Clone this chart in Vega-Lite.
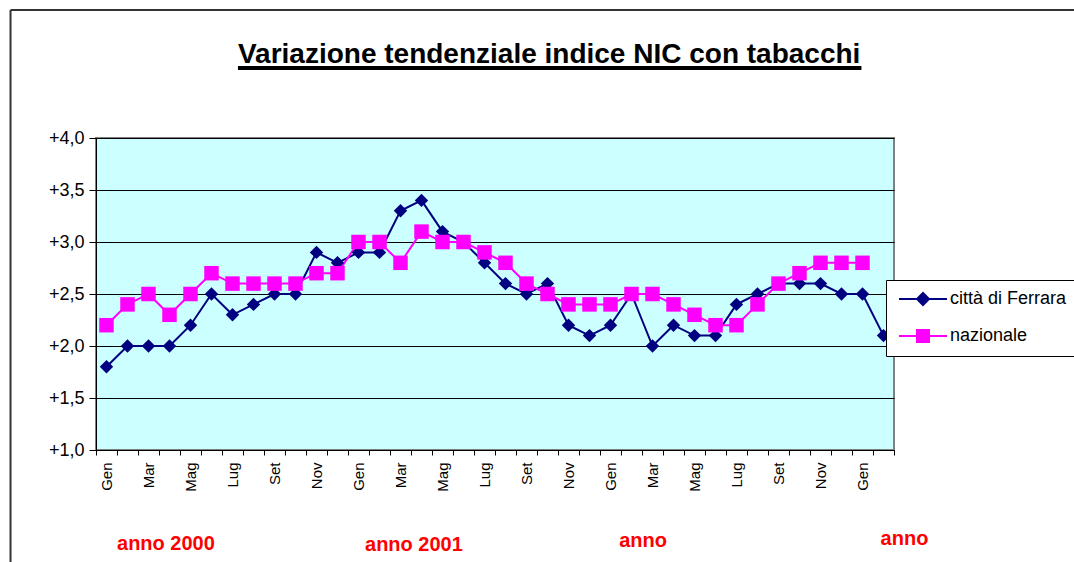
{
  "$schema": "https://vega.github.io/schema/vega-lite/v6.json",
  "width": 798,
  "height": 312,
  "autosize": "none",
  "padding": {"left": 96, "top": 138, "right": 180, "bottom": 112},
  "background": "white",
  "config": {
    "font": "Liberation Sans",
    "view": {"fill": "#CCFFFF", "stroke": "#808080", "strokeWidth": 2}
  },
  "datasets": {
    "serie": [
      {"t":0,"s":"città di Ferrara","v":1.8},{"t":1,"s":"città di Ferrara","v":2.0},{"t":2,"s":"città di Ferrara","v":2.0},{"t":3,"s":"città di Ferrara","v":2.0},
      {"t":4,"s":"città di Ferrara","v":2.2},{"t":5,"s":"città di Ferrara","v":2.5},{"t":6,"s":"città di Ferrara","v":2.3},{"t":7,"s":"città di Ferrara","v":2.4},
      {"t":8,"s":"città di Ferrara","v":2.5},{"t":9,"s":"città di Ferrara","v":2.5},{"t":10,"s":"città di Ferrara","v":2.9},{"t":11,"s":"città di Ferrara","v":2.8},
      {"t":12,"s":"città di Ferrara","v":2.9},{"t":13,"s":"città di Ferrara","v":2.9},{"t":14,"s":"città di Ferrara","v":3.3},{"t":15,"s":"città di Ferrara","v":3.4},
      {"t":16,"s":"città di Ferrara","v":3.1},{"t":17,"s":"città di Ferrara","v":3.0},{"t":18,"s":"città di Ferrara","v":2.8},{"t":19,"s":"città di Ferrara","v":2.6},
      {"t":20,"s":"città di Ferrara","v":2.5},{"t":21,"s":"città di Ferrara","v":2.6},{"t":22,"s":"città di Ferrara","v":2.2},{"t":23,"s":"città di Ferrara","v":2.1},
      {"t":24,"s":"città di Ferrara","v":2.2},{"t":25,"s":"città di Ferrara","v":2.5},{"t":26,"s":"città di Ferrara","v":2.0},{"t":27,"s":"città di Ferrara","v":2.2},
      {"t":28,"s":"città di Ferrara","v":2.1},{"t":29,"s":"città di Ferrara","v":2.1},{"t":30,"s":"città di Ferrara","v":2.4},{"t":31,"s":"città di Ferrara","v":2.5},
      {"t":32,"s":"città di Ferrara","v":2.6},{"t":33,"s":"città di Ferrara","v":2.6},{"t":34,"s":"città di Ferrara","v":2.6},{"t":35,"s":"città di Ferrara","v":2.5},
      {"t":36,"s":"città di Ferrara","v":2.5},{"t":37,"s":"città di Ferrara","v":2.1},
      {"t":0,"s":"nazionale","v":2.2},{"t":1,"s":"nazionale","v":2.4},{"t":2,"s":"nazionale","v":2.5},{"t":3,"s":"nazionale","v":2.3},
      {"t":4,"s":"nazionale","v":2.5},{"t":5,"s":"nazionale","v":2.7},{"t":6,"s":"nazionale","v":2.6},{"t":7,"s":"nazionale","v":2.6},
      {"t":8,"s":"nazionale","v":2.6},{"t":9,"s":"nazionale","v":2.6},{"t":10,"s":"nazionale","v":2.7},{"t":11,"s":"nazionale","v":2.7},
      {"t":12,"s":"nazionale","v":3.0},{"t":13,"s":"nazionale","v":3.0},{"t":14,"s":"nazionale","v":2.8},{"t":15,"s":"nazionale","v":3.1},
      {"t":16,"s":"nazionale","v":3.0},{"t":17,"s":"nazionale","v":3.0},{"t":18,"s":"nazionale","v":2.9},{"t":19,"s":"nazionale","v":2.8},
      {"t":20,"s":"nazionale","v":2.6},{"t":21,"s":"nazionale","v":2.5},{"t":22,"s":"nazionale","v":2.4},{"t":23,"s":"nazionale","v":2.4},
      {"t":24,"s":"nazionale","v":2.4},{"t":25,"s":"nazionale","v":2.5},{"t":26,"s":"nazionale","v":2.5},{"t":27,"s":"nazionale","v":2.4},
      {"t":28,"s":"nazionale","v":2.3},{"t":29,"s":"nazionale","v":2.2},{"t":30,"s":"nazionale","v":2.2},{"t":31,"s":"nazionale","v":2.4},
      {"t":32,"s":"nazionale","v":2.6},{"t":33,"s":"nazionale","v":2.7},{"t":34,"s":"nazionale","v":2.8},{"t":35,"s":"nazionale","v":2.8},
      {"t":36,"s":"nazionale","v":2.8}
    ],
    "titolo": [
      {"lab": "Variazione tendenziale indice NIC con tabacchi", "xq": 6.76, "yq": 4.721}
    ],
    "note": [
      {"lab": "anno 2000", "xq": 3.33, "yq": 0.096},
      {"lab": "anno 2001", "xq": 15.14, "yq": 0.087},
      {"lab": "anno", "xq": 26.05, "yq": 0.125},
      {"lab": "anno", "xq": 38.5, "yq": 0.144}
    ],
    "sottolineatura": [
      {"x1": 6.76, "x2": 36.45, "y1": 4.673}
    ],
    "cornice": [
      {"x1": -4.07, "x2": 60, "y1": 5.23, "y2": 5.23},
      {"x1": -4.07, "x2": -4.07, "y1": 5.23, "y2": -1.5}
    ]
  },
  "layer": [
    {
      "data": {"name": "serie"},
      "layer": [
        {
          "mark": {"type": "line", "strokeWidth": 2},
          "encoding": {
            "x": {
              "field": "t", "type": "ordinal",
              "scale": {"paddingInner": 0, "paddingOuter": 0},
              "axis": {
                "title": null,
                "labelAngle": 270,
                "labelExpr": "datum.value % 2 == 0 ? ['Gen','Mar','Mag','Lug','Set','Nov'][(datum.value % 12) / 2] : ''",
                "labelFontSize": 15,
                "labelColor": "black",
                "labelPadding": 7,
                "labelOverlap": false,
                "labelBound": false,
                "tickSize": 5,
                "tickColor": "black",
                "tickBand": "extent",
                "domainColor": "black",
                "grid": false
              }
            },
            "y": {
              "field": "v", "type": "quantitative",
              "scale": {"domain": [1, 4], "nice": false, "zero": false},
              "axis": {
                "title": null,
                "values": [1, 1.5, 2, 2.5, 3, 3.5, 4],
                "labelExpr": "'+' + replace(format(datum.value, '.1f'), '.', ',')",
                "labelFontSize": 18,
                "labelColor": "black",
                "labelPadding": 5,
                "tickSize": 7,
                "tickColor": "black",
                "domainColor": "black",
                "grid": true,
                "gridColor": "black",
                "gridWidth": 1,
                "gridOpacity": 1
              }
            },
            "color": {
              "field": "s", "type": "nominal",
              "scale": {"domain": ["città di Ferrara", "nazionale"], "range": ["#000080", "#FF00FF"]},
              "legend": {
                "title": null,
                "orient": "none",
                "legendX": 790,
                "legendY": 142,
                "padding": 10,
                "strokeColor": "black",
                "fillColor": "white",
                "labelFontSize": 18,
                "labelColor": "black",
                "labelOffset": 36,
                "rowPadding": 17,
                "symbolSize": 144,
                "symbolStrokeWidth": 2,
                "encode": {
                  "symbols": {
                    "update": {
                      "shape": {"signal": "datum.value == 'nazionale' ? 'M-1,0L7,0M2,-1L4,-1L4,1L2,1Z' : 'M-1,0L7,0M3,-1L4,0L3,1L2,0Z'"},
                      "fill": {"signal": "datum.value == 'nazionale' ? '#FF00FF' : '#000080'"},
                      "fillOpacity": {"value": 1}
                    }
                  }
                }
              }
            }
          }
        },
        {
          "mark": {"type": "point", "filled": true, "opacity": 1},
          "encoding": {
            "x": {"field": "t", "type": "ordinal"},
            "y": {"field": "v", "type": "quantitative", "scale": {"domain": [1, 4], "nice": false, "zero": false}},
            "color": {
              "field": "s", "type": "nominal",
              "scale": {"domain": ["città di Ferrara", "nazionale"], "range": ["#000080", "#FF00FF"]},
              "legend": null
            },
            "shape": {
              "field": "s", "type": "nominal",
              "scale": {"domain": ["città di Ferrara", "nazionale"], "range": ["diamond", "square"]},
              "legend": null
            },
            "size": {
              "field": "s", "type": "nominal",
              "scale": {"domain": ["città di Ferrara", "nazionale"], "range": [180, 210]},
              "legend": null
            }
          }
        }
      ],
      "resolve": {"scale": {"color": "independent", "shape": "independent", "size": "independent"}}
    },
    {
      "data": {"name": "titolo"},
      "mark": {"type": "text", "color": "black", "fontWeight": "bold", "fontSize": 28, "font": "Liberation Sans", "align": "left", "baseline": "alphabetic"},
      "encoding": {
        "x": {"field": "xq", "type": "quantitative", "scale": {"domain": [0, 38], "nice": false, "zero": false}, "axis": null},
        "y": {"field": "yq", "type": "quantitative", "scale": {"domain": [1, 4], "nice": false, "zero": false}, "axis": null},
        "text": {"field": "lab"}
      }
    },
    {
      "data": {"name": "note"},
      "mark": {"type": "text", "color": "#FF0000", "fontWeight": "bold", "fontSize": 20, "font": "Liberation Sans", "align": "center", "baseline": "middle"},
      "encoding": {
        "x": {"field": "xq", "type": "quantitative", "scale": {"domain": [0, 38], "nice": false, "zero": false}, "axis": null},
        "y": {"field": "yq", "type": "quantitative", "scale": {"domain": [1, 4], "nice": false, "zero": false}, "axis": null},
        "text": {"field": "lab"}
      }
    },
    {
      "data": {"name": "sottolineatura"},
      "mark": {"type": "rule", "color": "black", "strokeWidth": 4},
      "encoding": {
        "x": {"field": "x1", "type": "quantitative", "scale": {"domain": [0, 38], "nice": false, "zero": false}, "axis": null},
        "x2": {"field": "x2"},
        "y": {"field": "y1", "type": "quantitative", "scale": {"domain": [1, 4], "nice": false, "zero": false}, "axis": null}
      }
    },
    {
      "data": {"name": "cornice"},
      "mark": {"type": "rule", "color": "#333333", "strokeWidth": 2},
      "encoding": {
        "x": {"field": "x1", "type": "quantitative", "scale": {"domain": [0, 38], "nice": false, "zero": false}, "axis": null},
        "x2": {"field": "x2"},
        "y": {"field": "y1", "type": "quantitative", "scale": {"domain": [1, 4], "nice": false, "zero": false}, "axis": null},
        "y2": {"field": "y2"}
      }
    }
  ],
  "resolve": {"scale": {"x": "independent", "y": "independent"}}
}
